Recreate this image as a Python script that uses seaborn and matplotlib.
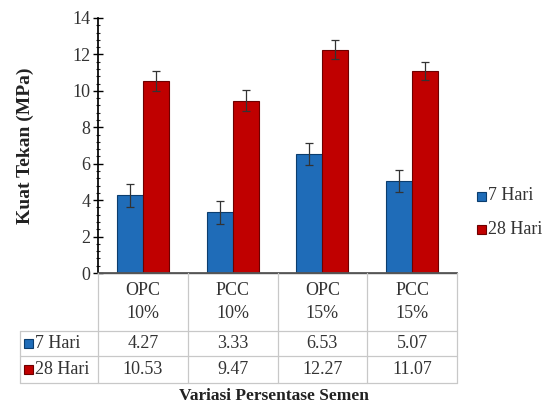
import matplotlib
matplotlib.use("Agg")
import matplotlib.pyplot as plt
import seaborn as sns
import pandas as pd
import numpy as np
from matplotlib.lines import Line2D
from matplotlib.patches import Rectangle
from matplotlib.ticker import MultipleLocator

categories = ["OPC\n10%", "PCC\n10%", "OPC\n15%", "PCC\n15%"]
series = ["7 Hari", "28 Hari"]
hari7 = [4.27, 3.33, 6.53, 5.07]
hari28 = [10.53, 9.47, 12.27, 11.07]
err7 = [0.63, 0.64, 0.6, 0.6]
err28 = [0.55, 0.55, 0.5, 0.5]
colors = ["#1f6cb8", "#c00000"]
edges = ["#0b3d6e", "#6e0000"]

sns.set_theme(style="white")
plt.rcParams['font.family'] = ['Liberation Serif', 'DejaVu Serif']

df = pd.DataFrame({
    "cat": categories * 2,
    "val": hari7 + hari28,
    "ser": [series[0]] * 4 + [series[1]] * 4,
})

W, H = 555, 407
fig = plt.figure(figsize=(W / 100, H / 100), dpi=100)
L, R, T, B = 98, 457, 18, 273
ax = fig.add_axes([L / W, 1 - B / H, (R - L) / W, (B - T) / H])

sns.barplot(data=df, x="cat", y="val", hue="ser", palette=colors, width=0.58,
            gap=0, ax=ax, legend=False, errorbar=None, saturation=1)

errs = err7 + err28
for i, p in enumerate(ax.patches[:8]):
    s = i // 4
    p.set_edgecolor(edges[s])
    p.set_linewidth(0.8)
    xc = p.get_x() + p.get_width() / 2
    ax.errorbar(xc, p.get_height(), yerr=errs[i], fmt="none",
                ecolor="#333333", elinewidth=0.9, capsize=3, capthick=0.9)

ax.set_ylim(0, 14)
ax.set_xlim(-0.5, 3.5)
ax.yaxis.set_major_locator(MultipleLocator(2))
ax.yaxis.set_minor_locator(MultipleLocator(0.4))
ax.tick_params(axis="y", which="major", direction="inout", length=7, width=1,
               labelsize=13, colors="black", left=True, pad=2)
ax.tick_params(axis="y", which="minor", direction="inout", length=3, width=0.8, left=True)
ax.tick_params(axis="x", bottom=False, labelbottom=False)
ax.set_xlabel("")
ax.set_ylabel("")
for sp in ["top", "right"]:
    ax.spines[sp].set_visible(False)
ax.spines["left"].set_color("black")
ax.spines["bottom"].set_color("#555555")
for lab in ax.get_yticklabels():
    lab.set_color("#333333")

# table
def fx(x):
    return x / W

def fy(y):
    return 1 - y / H

grid = "#c8c8c8"
rows_y = [B, 331, 356, 383]
TL = 20
colx = [L + (R - L) * k / 4 for k in range(5)]
fig.add_artist(Line2D([fx(L), fx(R)], [fy(B), fy(B)], color="#555555", lw=1))
for y in rows_y[1:]:
    fig.add_artist(Line2D([fx(TL), fx(R)], [fy(y), fy(y)], color=grid, lw=0.9))
for x in colx:
    fig.add_artist(Line2D([fx(x), fx(x)], [fy(B), fy(rows_y[-1])], color=grid, lw=0.9))
fig.add_artist(Line2D([fx(TL), fx(TL)], [fy(rows_y[1]), fy(rows_y[-1])], color=grid, lw=0.9))

for k, cat in enumerate(categories):
    xc = (colx[k] + colx[k + 1]) / 2
    fig.text(fx(xc), fy((rows_y[0] + rows_y[1]) / 2), cat, ha="center", va="center",
             fontsize=13, color="#333333", linespacing=1.45)
    fig.text(fx(xc), fy((rows_y[1] + rows_y[2]) / 2), f"{hari7[k]:.2f}", ha="center",
             va="center", fontsize=13, color="#333333")
    fig.text(fx(xc), fy((rows_y[2] + rows_y[3]) / 2), f"{hari28[k]:.2f}", ha="center",
             va="center", fontsize=13, color="#333333")

for s, name in enumerate(series):
    yc = (rows_y[1 + s] + rows_y[2 + s]) / 2
    fig.add_artist(Rectangle((fx(24), fy(yc + 4.5)), 9 / W, 9 / H, facecolor=colors[s],
                             edgecolor=edges[s], lw=0.8, transform=fig.transFigure))
    fig.text(fx(35), fy(yc), name, ha="left", va="center", fontsize=13, color="#333333")

for s, name in enumerate(series):
    yc = [196, 229][s]
    fig.add_artist(Rectangle((fx(477), fy(yc + 4.5)), 9 / W, 9 / H, facecolor=colors[s],
                             edgecolor=edges[s], lw=0.8, transform=fig.transFigure))
    fig.text(fx(488), fy(yc), name, ha="left", va="center", fontsize=13, color="#333333")

fig.text(fx(274), fy(396), "Variasi Persentase Semen", ha="center", va="center",
         fontsize=12.5, fontweight="bold", color="#222222")
fig.text(fx(25), fy(146), "Kuat Tekan (MPa)", ha="center", va="center", rotation=90,
         fontsize=14, fontweight="bold", color="#222222")

fig.savefig("out.png", dpi=100, facecolor="white")
